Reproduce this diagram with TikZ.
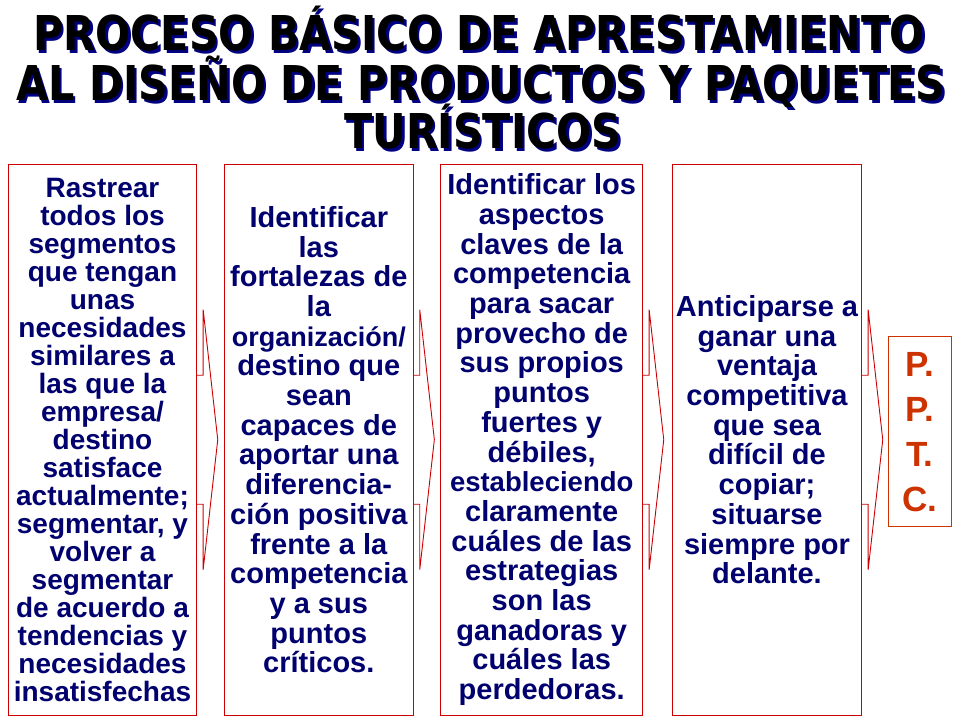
\documentclass[tikz,border=0pt]{standalone}
\usepackage{fontspec}
\setmainfont{Liberation Sans}
\newfontfamily\titulofont{DejaVu Sans}
\usepackage{graphicx}
\usetikzlibrary{calc}
\definecolor{azul}{RGB}{0,0,110}
\definecolor{rojo}{RGB}{204,0,0}
\definecolor{naranja}{RGB}{204,51,0}
\definecolor{sombra}{RGB}{0,0,128}
\tikzset{caja/.style={draw=rojo,fill=white,line width=0.9pt,inner sep=0pt,align=center,text=azul,font=\bfseries\fontsize{29}{29.7}\selectfont},
  flecha/.style={draw=rojo,line width=0.9pt,line join=miter},
  titulo/.style={font=\titulofont\bfseries\fontsize{48}{48}\selectfont,inner sep=0pt,anchor=base}}
% texto con sombra azul
\newcommand\tit[1]{\scalebox{0.86}[1]{\rlap{\hspace{3pt}\raisebox{-3pt}{\textcolor{sombra}{#1}}}#1}}
\newcommand\flecha[1]{\draw[flecha] ($(#1.east)+(0,-64.5)$) -- ++(6,0) -- ++(0,-65.5)
  -- ($(#1.east)+(20.6,0)$) -- ($(#1.east)+(6,130)$) -- ++(0,-65.5) -- ($(#1.east)+(0,64.5)$);}

\begin{document}
\begin{tikzpicture}[x=1pt,y=-1pt]
          \useasboundingbox (0,0) rectangle (960,720);

          %titulo
          \node[titulo] (t1) at (479,50) {\tit{PROCESO BÁSICO DE APRESTAMIENTO}};
          \node[titulo] (t2) at (481,100) {\tit{AL DISEÑO DE PRODUCTOS Y PAQUETES}};
          \node[titulo] (t3) at (483,148) {\tit{TURÍSTICOS}};

          %cajas
          \node[caja, minimum width=188.4pt, minimum height=550.7pt, font=\bfseries\fontsize{28}{28}\selectfont] (c1) at (102.5,439.7)
            {Rastrear\\todos los\\segmentos\\que tengan\\unas\\necesidades\\similares a\\las que la\\empresa/\\destino\\satisface\\actualmente;\\segmentar, y\\volver a\\segmentar\\de acuerdo a\\tendencias y\\necesidades\\insatisfechas};
          \node[caja, minimum width=189pt, minimum height=550.7pt] (c2) at (318.8,439.7)
            {Identificar\\las\\fortalezas de\\la\\{\fontsize{27}{29.7}\selectfont organización/}\\destino que\\sean\\capaces de\\aportar una\\diferencia-\\ción positiva\\frente a la\\competencia\\y a sus\\puntos\\críticos.};
          \node[caja, minimum width=202pt, minimum height=550.7pt] (c3) at (541.7,439.7)
            {Identificar los\\aspectos\\claves de la\\competencia\\para sacar\\provecho de\\sus propios\\puntos\\fuertes y\\débiles,\\{\fontsize{27.5}{29.7}\selectfont estableciendo}\\claramente\\cuáles de las\\estrategias\\son las\\ganadoras y\\cuáles las\\perdedoras.};
          \node[caja, minimum width=189.4pt, minimum height=550.7pt] (c4) at (767,439.7)
            {Anticiparse a\\ganar una\\ventaja\\competitiva\\que sea\\difícil de\\copiar;\\situarse\\siempre por\\delante.};
          \node[caja, draw=naranja, text=naranja, minimum width=63.4pt, minimum height=190pt, font=\bfseries\fontsize{35}{45}\selectfont] (p) at (920,431.7)
            {P.\\P.\\T.\\C.};

          %flechas
          \flecha{c1}
          \flecha{c2}
          \flecha{c3}
          \flecha{c4}

\end{tikzpicture}
\end{document}
